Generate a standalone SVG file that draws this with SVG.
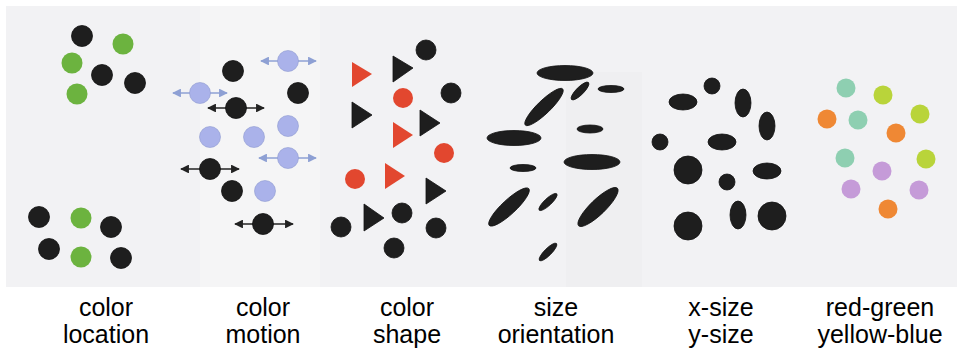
<svg xmlns="http://www.w3.org/2000/svg" width="957" height="352" viewBox="0 0 957 352">
<defs>
<style>
.k{fill:#1e1e1e;stroke:#111;stroke-width:0.8}
.g{fill:#6cb33f}
.b{fill:#aab2ea;stroke:#8f9ad0;stroke-width:0.6}
.r{fill:#e2472f}
.t{fill:#8ecfb1}
.l{fill:#b9d43a}
.o{fill:#ef8834}
.p{fill:#c59bd8}
.ak{stroke:#222;stroke-width:1.6;fill:none;marker-start:url(#hk);marker-end:url(#hk)}
.ab{stroke:#8ea0d4;stroke-width:1.6;fill:none;marker-start:url(#hb);marker-end:url(#hb)}
.lbl{font-family:"Liberation Sans",Arial,sans-serif;font-size:25px;fill:#000;text-anchor:middle}
</style>
<marker id="hk" viewBox="0 0 10 10" refX="9" refY="5" markerWidth="6" markerHeight="5.5" orient="auto-start-reverse"><path d="M0,0 L10,5 L0,10 z" fill="#222"/></marker>
<marker id="hb" viewBox="0 0 10 10" refX="9" refY="5" markerWidth="6" markerHeight="5.5" orient="auto-start-reverse"><path d="M0,0 L10,5 L0,10 z" fill="#8ea0d4"/></marker>
</defs>
<rect x="0" y="0" width="957" height="352" fill="#ffffff"/>
<rect x="6" y="6" width="951" height="281" fill="#f2f2f4"/>
<rect x="200" y="6" width="120" height="281" fill="#f5f5f6"/>
<rect x="566" y="72" width="76" height="215" fill="#efeff1"/>

<g id="panel-color-location">
<circle class="k" cx="82" cy="36" r="10.5"/>
<circle class="g" cx="123" cy="44" r="10.5"/>
<circle class="g" cx="72" cy="63" r="10.5"/>
<circle class="k" cx="102" cy="75" r="10.5"/>
<circle class="k" cx="135" cy="83" r="10.5"/>
<circle class="g" cx="77" cy="94" r="10.5"/>
<circle class="k" cx="39" cy="217" r="10.5"/>
<circle class="g" cx="81" cy="218" r="10.5"/>
<circle class="k" cx="111" cy="227" r="10.5"/>
<circle class="k" cx="49" cy="249" r="10.5"/>
<circle class="g" cx="81" cy="257" r="10.5"/>
<circle class="k" cx="121" cy="258" r="10.5"/>
</g>

<g id="connectors">
<line class="ab" x1="261" y1="61" x2="316" y2="61"/>
<line class="ab" x1="173" y1="93" x2="227" y2="93"/>
<line class="ak" x1="208" y1="108" x2="264" y2="108"/>
<line class="ab" x1="259" y1="158" x2="316" y2="158"/>
<line class="ak" x1="181" y1="169" x2="239" y2="169"/>
<line class="ak" x1="235" y1="224" x2="293" y2="224"/>
</g>

<g id="panel-color-motion">
<circle class="b" cx="288" cy="61" r="10.5"/>
<circle class="k" cx="233" cy="71" r="10.5"/>
<circle class="b" cx="200" cy="93" r="10.5"/>
<circle class="k" cx="298" cy="93" r="10.5"/>
<circle class="k" cx="236" cy="108" r="10.5"/>
<circle class="b" cx="288" cy="126" r="10.5"/>
<circle class="b" cx="210" cy="137" r="10.5"/>
<circle class="b" cx="254" cy="137" r="10.5"/>
<circle class="b" cx="288" cy="158" r="10.5"/>
<circle class="k" cx="210" cy="169" r="10.5"/>
<circle class="k" cx="232" cy="191" r="10.5"/>
<circle class="b" cx="265" cy="191" r="10.5"/>
<circle class="k" cx="263" cy="224" r="10.5"/>
</g>

<g id="panel-color-shape">
<circle class="k" cx="426" cy="50" r="10"/>
<polygon class="r" points="352,62 372,74 352,87"/>
<polygon class="k" points="393,56 413,68 393,82"/>
<circle class="r" cx="403" cy="98" r="10"/>
<circle class="k" cx="451" cy="93" r="10"/>
<polygon class="k" points="352,102 372,115 352,128"/>
<polygon class="r" points="393,122 413,135 393,148"/>
<polygon class="k" points="420,110 440,123 420,136"/>
<circle class="r" cx="444" cy="153" r="10"/>
<circle class="r" cx="355" cy="179" r="10"/>
<polygon class="r" points="385,163 405,176 385,189"/>
<polygon class="k" points="426,178 446,191 426,204"/>
<polygon class="k" points="364,204 384,218 364,231"/>
<circle class="k" cx="402" cy="213" r="10"/>
<circle class="k" cx="341" cy="227" r="10"/>
<circle class="k" cx="436" cy="228" r="10"/>
<circle class="k" cx="394" cy="248" r="10"/>
</g>

<g id="panel-size-orientation">
<ellipse class="k" cx="565" cy="73" rx="28" ry="7.5"/>
<ellipse class="k" cx="544" cy="107" rx="26" ry="6.5" transform="rotate(-44 544 107)"/>
<ellipse class="k" cx="580" cy="91" rx="12" ry="3.8" transform="rotate(-45 580 91)"/>
<ellipse class="k" cx="611" cy="89" rx="13" ry="3.5"/>
<ellipse class="k" cx="590" cy="129" rx="13" ry="4"/>
<ellipse class="k" cx="514" cy="138" rx="27" ry="7.5"/>
<ellipse class="k" cx="592" cy="162" rx="28" ry="7.5"/>
<ellipse class="k" cx="523" cy="168" rx="13" ry="3.5"/>
<ellipse class="k" cx="509" cy="207" rx="27" ry="7" transform="rotate(-43 509 207)"/>
<ellipse class="k" cx="548" cy="202" rx="12" ry="3.5" transform="rotate(-43 548 202)"/>
<ellipse class="k" cx="598" cy="207" rx="27" ry="7.5" transform="rotate(-44 598 207)"/>
<ellipse class="k" cx="548" cy="252" rx="12" ry="3.5" transform="rotate(-45 548 252)"/>
</g>

<g id="panel-x-size-y-size">
<circle class="k" cx="712" cy="86" r="8"/>
<ellipse class="k" cx="683" cy="102" rx="14" ry="8"/>
<ellipse class="k" cx="743" cy="103" rx="8" ry="14"/>
<ellipse class="k" cx="767" cy="126" rx="8" ry="14"/>
<circle class="k" cx="660" cy="142" r="8"/>
<ellipse class="k" cx="722" cy="142" rx="14" ry="8"/>
<circle class="k" cx="688" cy="170" r="14"/>
<circle class="k" cx="727" cy="182" r="8"/>
<ellipse class="k" cx="767" cy="171" rx="14" ry="8"/>
<ellipse class="k" cx="738" cy="215" rx="8" ry="14"/>
<circle class="k" cx="772" cy="216" r="14"/>
<circle class="k" cx="688" cy="226" r="14"/>
</g>

<g id="panel-red-green-yellow-blue">
<circle class="t" cx="846" cy="88" r="9.5"/>
<circle class="l" cx="883" cy="95" r="9.5"/>
<circle class="o" cx="827" cy="119" r="9.5"/>
<circle class="t" cx="858" cy="120" r="9.5"/>
<circle class="l" cx="920" cy="114" r="9.5"/>
<circle class="o" cx="896" cy="133" r="9.5"/>
<circle class="t" cx="845" cy="158" r="9.5"/>
<circle class="l" cx="926" cy="159" r="9.5"/>
<circle class="p" cx="882" cy="171" r="9.5"/>
<circle class="p" cx="851" cy="189" r="9.5"/>
<circle class="p" cx="919" cy="190" r="9.5"/>
<circle class="o" cx="888" cy="209" r="9.5"/>
</g>

<g id="labels">
<text class="lbl" x="106" y="316">color</text>
<text class="lbl" x="106" y="343">location</text>
<text class="lbl" x="263" y="316">color</text>
<text class="lbl" x="263" y="343">motion</text>
<text class="lbl" x="407" y="316">color</text>
<text class="lbl" x="407" y="343">shape</text>
<text class="lbl" x="556" y="316">size</text>
<text class="lbl" x="556" y="343">orientation</text>
<text class="lbl" x="721" y="316">x-size</text>
<text class="lbl" x="721" y="343">y-size</text>
<text class="lbl" x="880" y="316">red-green</text>
<text class="lbl" x="880" y="343">yellow-blue</text>
</g>
</svg>
